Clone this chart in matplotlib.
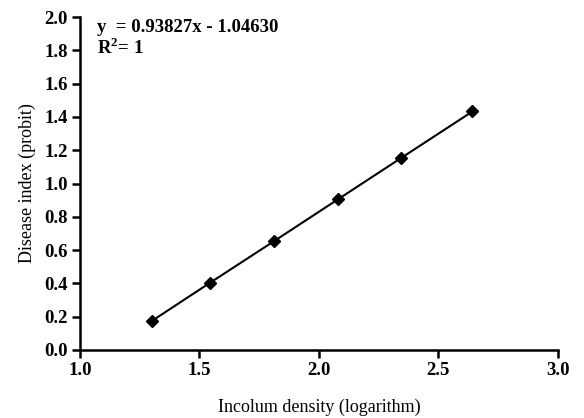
import matplotlib
matplotlib.use('Agg')
import matplotlib.pyplot as plt

# log inoculum density vs disease index (probit)
log_density = [1.301, 1.544, 1.813, 2.079, 2.342, 2.643]
disease_index = [0.174, 0.403, 0.654, 0.904, 1.151, 1.433]

slope = 0.93827
intercept = -1.04630

plt.rcParams['font.family'] = ['Liberation Serif', 'DejaVu Serif']
plt.rcParams['mathtext.fontset'] = 'custom'
plt.rcParams['mathtext.bf'] = 'Liberation Serif:bold'
plt.rcParams['mathtext.rm'] = 'Liberation Serif:bold'

fig = plt.figure(figsize=(5.84, 4.18), dpi=100)
ax = fig.add_axes([0.137, 0.163, 0.818, 0.796])

ax.plot(log_density, disease_index, color='black', linewidth=1.5,
        marker='D', markersize=6, markerfacecolor='black', markeredgecolor='black')

xt = [1.0, 1.5, 2.0, 2.5, 3.0]
yt = [i / 10 for i in range(0, 21, 2)]
ax.set_xlim(1.0, 3.0)
ax.set_ylim(0.0, 2.0)
ax.set_xticks(xt)
ax.set_yticks(yt)
ax.set_xticklabels(['%.1f' % v for v in xt], fontweight='bold', fontsize=13.5)
ax.set_yticklabels(['%.1f' % v for v in yt], fontweight='bold', fontsize=13.5)

for s in ['top', 'right']:
    ax.spines[s].set_visible(False)
for s in ['left', 'bottom']:
    ax.spines[s].set_linewidth(1.8)
ax.tick_params(direction='out', length=6, width=1.8, pad=3)

ax.set_xlabel('Incolum density (logarithm)', fontsize=13, labelpad=14)
ax.set_ylabel('Disease index (probit)', fontsize=13, labelpad=6)

ax.text(0.035, 0.995, 'y  = %.5fx - %.5f' % (slope, -intercept), transform=ax.transAxes,
        fontsize=13.5, fontweight='bold', va='top')
ax.text(0.035, 0.94, r'R$^{\mathrm{2}}$= 1', transform=ax.transAxes,
        fontsize=13.5, fontweight='bold', va='top')

fig.savefig('out.png', dpi=100)
